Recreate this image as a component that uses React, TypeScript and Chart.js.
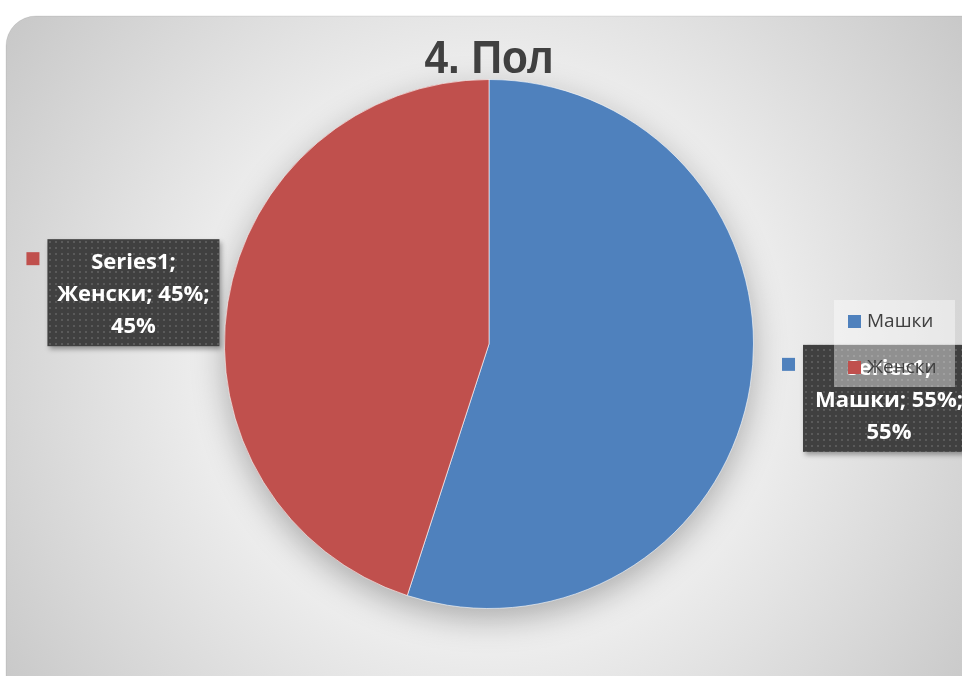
import React, { useEffect, useRef } from "react";
import { Chart, registerables } from "chart.js";

Chart.register(...registerables);

const titleText = "4. Пол";
const seriesName = "Series1";
const categories = ["Машки", "Женски"];
const values = [55, 45];
const sliceColors = ["#4f81bd", "#c0504d"];

const W = 962;
const H = 676;

function roundRect(ctx: CanvasRenderingContext2D, x: number, y: number, w: number, h: number, r: number) {
  ctx.beginPath();
  ctx.moveTo(x + r, y);
  ctx.lineTo(x + w - r, y);
  ctx.arcTo(x + w, y, x + w, y + r, r);
  ctx.lineTo(x + w, y + h - r);
  ctx.arcTo(x + w, y + h, x + w - r, y + h, r);
  ctx.lineTo(x + r, y + h);
  ctx.arcTo(x, y + h, x, y + h - r, r);
  ctx.lineTo(x, y + r);
  ctx.arcTo(x, y, x + r, y, r);
  ctx.closePath();
}

function makePattern(ctx: CanvasRenderingContext2D) {
  const c = document.createElement("canvas");
  c.width = 6;
  c.height = 6;
  const p = c.getContext("2d")!;
  p.fillStyle = "#404040";
  p.fillRect(0, 0, 6, 6);
  p.fillStyle = "#5a5a5a";
  p.fillRect(1, 1, 2, 2);
  return ctx.createPattern(c, "repeat");
}

const backgroundPlugin = {
  id: "bgPanel",
  beforeDraw(chart: any) {
    const ctx = chart.ctx as CanvasRenderingContext2D;
    ctx.save();
    ctx.fillStyle = "#ffffff";
    ctx.fillRect(0, 0, W, H);
    roundRect(ctx, 6, 16, 1000, 720, 30);
    const g = ctx.createRadialGradient(489, 360, 0, 489, 360, 620);
    g.addColorStop(0, "#f4f4f4");
    g.addColorStop(0.45, "#eeeeee");
    g.addColorStop(1, "#c4c4c4");
    ctx.fillStyle = g;
    ctx.fill();
    ctx.strokeStyle = "rgba(0,0,0,0.08)";
    ctx.lineWidth = 1;
    ctx.stroke();
    ctx.restore();
  },
  beforeDatasetsDraw(chart: any) {
    const meta = chart.getDatasetMeta(0);
    const arc = meta.data[0];
    if (!arc) return;
    const { x, y, outerRadius } = arc.getProps(["x", "y", "outerRadius"], true);
    const ctx = chart.ctx as CanvasRenderingContext2D;
    ctx.save();
    ctx.shadowColor = "rgba(0,0,0,0.3)";
    ctx.shadowBlur = 34;
    ctx.shadowOffsetY = 10;
    ctx.fillStyle = "#dddddd";
    ctx.beginPath();
    ctx.arc(x, y, outerRadius - 1, 0, Math.PI * 2);
    ctx.fill();
    ctx.restore();
  },
};

const labelOffsets = [
  { r: 405, dy: -9 },
  { r: 360, dy: 5 },
];

const overlayPlugin = {
  id: "overlay",
  afterDraw(chart: any) {
    const ctx = chart.ctx as CanvasRenderingContext2D;
    const ds = chart.data.datasets[0];
    const data = ds.data as number[];
    const total = data.reduce((a, b) => a + b, 0);
    const meta = chart.getDatasetMeta(0);
    const pattern = makePattern(ctx);

    // title (condensed)
    ctx.save();
    ctx.fillStyle = "#404040";
    ctx.font = "bold 46px 'Liberation Sans', sans-serif";
    ctx.textAlign = "center";
    ctx.textBaseline = "middle";
    ctx.translate(489, 60);
    ctx.scale(0.92, 1);
    ctx.fillText(titleText, 0, 0);
    ctx.restore();

    // data labels
    meta.data.forEach((arc: any, i: number) => {
      const { x, y, startAngle, endAngle } = arc.getProps(["x", "y", "startAngle", "endAngle"], true);
      const mid = (startAngle + endAngle) / 2;
      const off = labelOffsets[i];
      const cx = x + Math.cos(mid) * off.r;
      const cy = y + Math.sin(mid) * off.r + off.dy;
      const bw = 172;
      const bh = 107;
      const bx = cx - bw / 2;
      const by = cy - bh / 2;
      const pct = Math.round((data[i] / total) * 100);
      const lines = [`${seriesName};`, `${chart.data.labels[i]}; ${pct}%;`, `${data[i]}%`];

      ctx.save();
      ctx.shadowColor = "rgba(0,0,0,0.35)";
      ctx.shadowBlur = 5;
      ctx.shadowOffsetX = 2;
      ctx.shadowOffsetY = 3;
      ctx.fillStyle = pattern || "#404040";
      ctx.fillRect(bx, by, bw, bh);
      ctx.restore();

      ctx.save();
      ctx.fillStyle = (ds.backgroundColor as string[])[i];
      ctx.fillRect(bx - 21, by + 13, 13, 13);
      ctx.fillStyle = "#ffffff";
      ctx.font = "bold 22px 'Open Sans', 'Noto Sans', sans-serif";
      ctx.textAlign = "center";
      ctx.textBaseline = "middle";
      lines.forEach((t, k) => ctx.fillText(t, cx, by + 24 + k * 32));
      ctx.restore();
    });

    // legend
    ctx.save();
    ctx.fillStyle = "rgba(255,255,255,0.42)";
    ctx.fillRect(834, 300, 121, 87);
    ctx.font = "19px 'Open Sans', 'Noto Sans', sans-serif";
    ctx.textBaseline = "middle";
    ctx.textAlign = "left";
    (chart.data.labels as string[]).forEach((lab, i) => {
      const ly = 322 + i * 46;
      ctx.fillStyle = (ds.backgroundColor as string[])[i];
      ctx.fillRect(848, ly - 7, 13, 13);
      ctx.fillStyle = "#404040";
      ctx.fillText(lab, 867, ly);
    });
    ctx.restore();
  },
};

export default function App() {
  const ref = useRef<HTMLCanvasElement | null>(null);
  useEffect(() => {
    if (!ref.current) return;
    const chart = new Chart(ref.current, {
      type: "pie",
      data: {
        labels: categories,
        datasets: [
          {
            label: seriesName,
            data: values,
            backgroundColor: sliceColors,
            borderColor: "rgba(255,255,255,0.6)",
            borderWidth: 1,
          },
        ],
      },
      options: {
        responsive: false,
        animation: false,
        devicePixelRatio: 1,
        layout: { padding: { top: 79, bottom: 67, left: 224, right: 208 } },
        plugins: {
          legend: { display: false },
          title: { display: false },
          tooltip: { enabled: false },
        },
      },
      plugins: [backgroundPlugin, overlayPlugin],
    });
    return () => chart.destroy();
  }, []);
  return (
    <div style={{ position: "fixed", left: 0, top: 0, width: W, height: H }}>
      <canvas ref={ref} width={W} height={H} style={{ display: "block", width: W, height: H }} />
    </div>
  );
}
